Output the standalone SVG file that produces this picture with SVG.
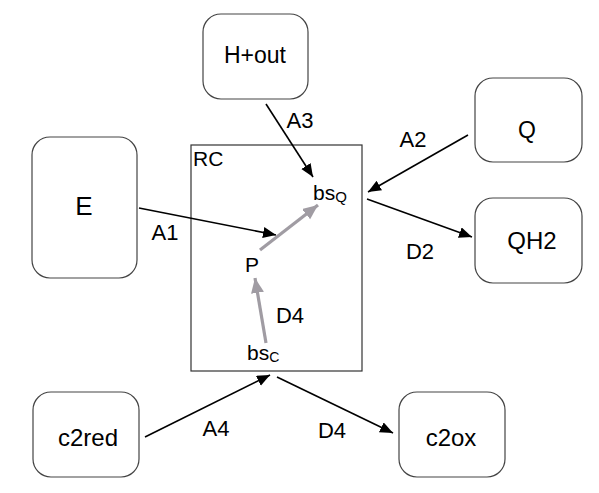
<svg xmlns="http://www.w3.org/2000/svg" width="599" height="493" viewBox="0 0 599 493">
<style>
.node{fill:#fff;stroke:#444;stroke-width:1.2}
.t{font-family:"Liberation Sans",Arial,sans-serif;fill:#000;text-anchor:middle}
.ts{font-family:"Liberation Sans",Arial,sans-serif;fill:#000}
.e{stroke:#000;stroke-width:1.6;fill:none;marker-end:url(#ab)}
.g{stroke:#a09ca3;stroke-width:3.2;fill:none;marker-end:url(#ag)}
</style>
<defs>
<marker id="ab" markerUnits="userSpaceOnUse" markerWidth="14" markerHeight="12" refX="13" refY="5.5" orient="auto"><path d="M0,0 L13,5.5 L0,11 z" fill="#000"/></marker>
<marker id="ag" markerUnits="userSpaceOnUse" markerWidth="16" markerHeight="14" refX="15" refY="6.5" orient="auto"><path d="M0,0 L15,6.5 L0,13 z" fill="#a09ca3"/></marker>
</defs>
<rect id="RC" x="191" y="145" width="171" height="226" fill="none" stroke="#333" stroke-width="1.2"/>
<g id="Hout"><rect class="node" x="203" y="14" width="105" height="85" rx="18"/><text class="t" x="255" y="63" font-size="23">H+out</text></g>
<g id="E"><rect class="node" x="32" y="137" width="105" height="141" rx="18"/><text class="t" x="84" y="215" font-size="26">E</text></g>
<g id="Q"><rect class="node" x="475" y="78" width="107" height="84" rx="18"/><text class="t" x="527" y="138" font-size="23">Q</text></g>
<g id="QH2"><rect class="node" x="475" y="198" width="107" height="85" rx="18"/><text class="t" x="532" y="249" font-size="24">QH2</text></g>
<g id="c2red"><rect class="node" x="33" y="392" width="106" height="85" rx="18"/><text class="t" x="88" y="446" font-size="24">c2red</text></g>
<g id="c2ox"><rect class="node" x="399" y="392" width="106" height="85" rx="18"/><text class="t" x="451" y="446" font-size="24">c2ox</text></g>
<g id="labels">
<text class="ts" x="193" y="166" font-size="21">RC</text>
<text class="ts" x="313" y="200" font-size="21">bs<tspan font-size="15" dy="2">Q</tspan></text>
<text class="t" x="252" y="272" font-size="21">P</text>
<text class="t" x="290" y="323" font-size="22">D4</text>
<text class="ts" x="247" y="360" font-size="21">bs<tspan font-size="14" dy="2">C</tspan></text>
</g>
<g id="connectors">
<line class="e" x1="266" y1="104" x2="313" y2="177"/>
<line class="e" x1="139" y1="208" x2="276" y2="235"/>
<line class="e" x1="468" y1="135" x2="368" y2="192"/>
<line class="e" x1="367" y1="199" x2="472" y2="237"/>
<line class="e" x1="145" y1="437" x2="270" y2="375"/>
<line class="e" x1="277" y1="377" x2="393" y2="433"/>
<line class="g" x1="260" y1="250" x2="318" y2="205"/>
<line class="g" x1="266" y1="343" x2="255" y2="278"/>
<text class="t" x="300" y="128" font-size="22">A3</text>
<text class="t" x="413" y="147" font-size="22">A2</text>
<text class="t" x="165" y="240" font-size="22">A1</text>
<text class="t" x="420" y="259" font-size="22">D2</text>
<text class="t" x="216" y="436" font-size="22">A4</text>
<text class="t" x="332" y="438" font-size="22">D4</text>
</g>
</svg>
